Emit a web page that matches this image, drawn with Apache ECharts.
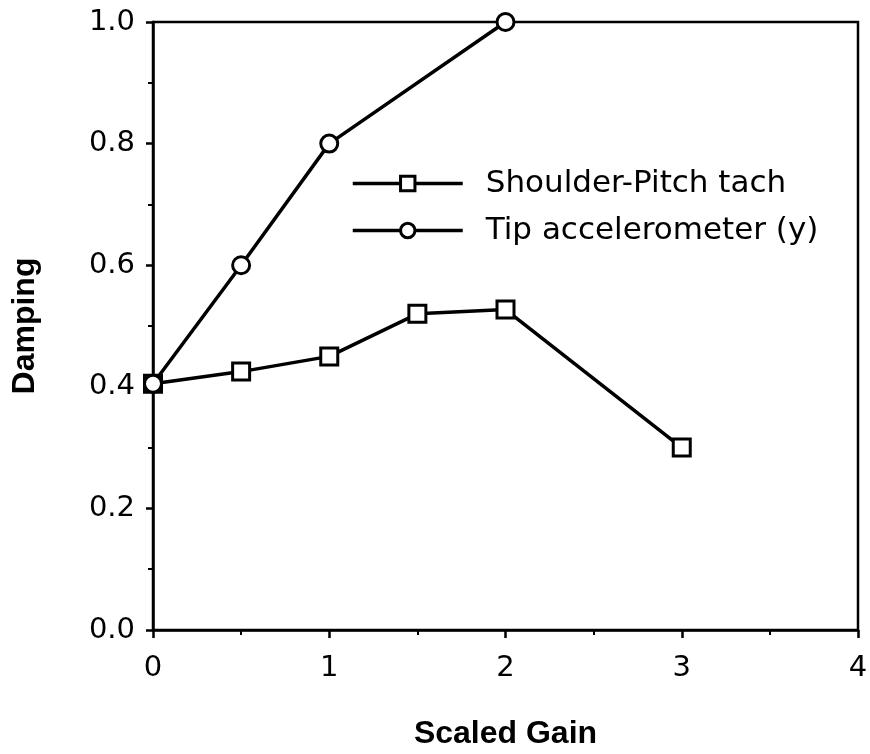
<!DOCTYPE html>
<html>
<head>
<meta charset="utf-8">
<script src="https://cdn.jsdelivr.net/npm/echarts@6/dist/echarts.min.js"></script>
<style>
  html, body { margin: 0; padding: 0; background: #fff; }
  #chart { width: 870px; height: 754px; }
</style>
</head>
<body>
<div id="chart"></div>
<script>
// Damping versus scaled feedback gain for two sensor choices
const gainShoulder = [0, 0.5, 1, 1.5, 2, 3];
const dampingShoulder = [0.405, 0.425, 0.45, 0.52, 0.527, 0.30];
const gainTip = [0, 0.5, 1, 2];
const dampingTip = [0.405, 0.60, 0.80, 1.0];
const seriesNames = ['Shoulder-Pitch tach', 'Tip accelerometer (y)'];
const xTitle = 'Scaled Gain';
const yTitle = 'Damping';

const pairs = (xs, ys) => xs.map((x, i) => [x, ys[i]]);
const font = 'DejaVu Sans';
const titleFont = 'Liberation Sans';
const ink = '#000';

const chart = echarts.init(document.getElementById('chart'), null, { renderer: 'canvas' });

const lineSeries = (name, data, symbol) => ({
  name,
  type: 'line',
  data,
  symbol,
  symbolSize: 17,
  showAllSymbol: true,
  lineStyle: { color: ink, width: 3.5 },
  itemStyle: { color: '#fff', borderColor: ink, borderWidth: 3 },
  emphasis: { disabled: true },
  animation: false,
  z: symbol === 'circle' ? 3 : 2
});

chart.setOption({
  backgroundColor: '#fff',
  animation: false,
  grid: {
    left: 153, right: 12, top: 22, bottom: 124,
    outerBoundsMode: 'none',
    show: true, borderColor: ink, borderWidth: 2.5, backgroundColor: 'transparent'
  },
  legend: {
    orient: 'vertical',
    left: 346, top: 163,
    itemWidth: 110, itemHeight: 18, itemGap: 16,
    lineStyle: { width: 3.5, color: ink },
    itemStyle: { color: '#fff', borderColor: ink, borderWidth: 3 },
    textStyle: { fontFamily: font, fontSize: 31, color: ink, padding: [0, 0, 0, 18] },
    data: seriesNames
  },
  xAxis: {
    type: 'value', min: 0, max: 4, interval: 1,
    name: xTitle, nameLocation: 'middle', nameGap: 88,
    nameTextStyle: { fontFamily: titleFont, fontWeight: 'bold', fontSize: 32, color: ink },
    axisLine: { lineStyle: { color: ink, width: 2.5 } },
    axisTick: { show: true, length: 8, lineStyle: { color: ink, width: 2.5 } },
    minorTick: { show: true, splitNumber: 2, length: 5, lineStyle: { color: ink, width: 2 } },
    axisLabel: { fontFamily: font, fontSize: 29, color: ink, margin: 24 },
    splitLine: { show: false }
  },
  yAxis: {
    type: 'value', min: 0, max: 1, interval: 0.2,
    name: yTitle, nameLocation: 'middle', nameGap: 112, nameRotate: 90,
    nameTextStyle: { fontFamily: titleFont, fontWeight: 'bold', fontSize: 32, color: ink },
    axisLine: { lineStyle: { color: ink, width: 2.5 } },
    axisTick: { show: true, length: 7, lineStyle: { color: ink, width: 2.5 } },
    minorTick: { show: true, splitNumber: 2, length: 5, lineStyle: { color: ink, width: 2 } },
    axisLabel: {
      fontFamily: font, fontSize: 29, color: ink, margin: 18,
      formatter: v => v.toFixed(1)
    },
    splitLine: { show: false }
  },
  series: [
    lineSeries(seriesNames[0], pairs(gainShoulder, dampingShoulder), 'rect'),
    lineSeries(seriesNames[1], pairs(gainTip, dampingTip), 'circle')
  ]
});
</script>
</body>
</html>
